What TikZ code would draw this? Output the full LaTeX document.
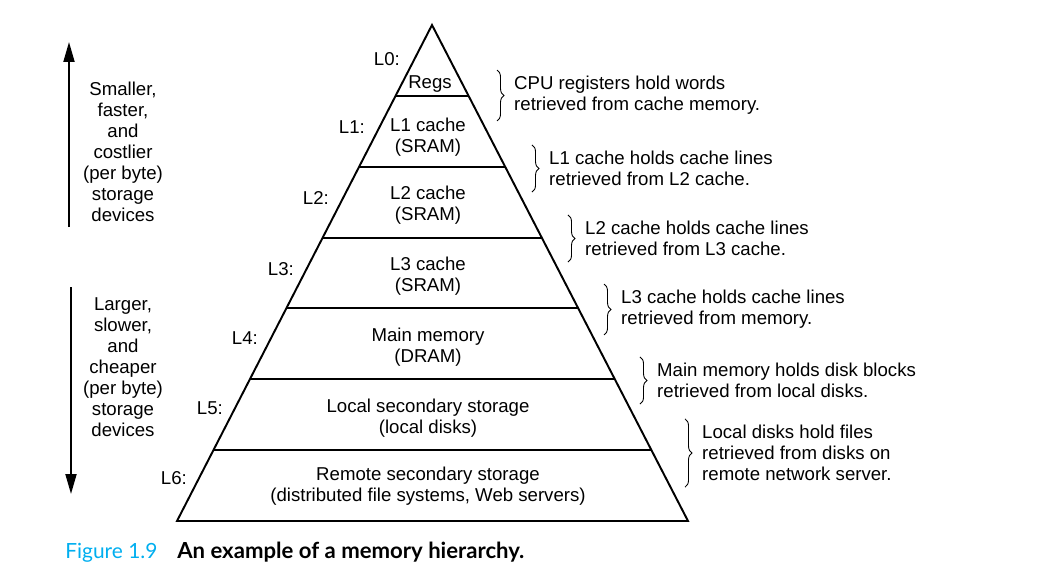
\documentclass[tikz,border=0pt]{standalone}
\usepackage{fontspec}
\setmainfont{Liberation Sans}
\newfontfamily\capfont{Lato}
\usetikzlibrary{arrows.meta, calc, decorations.pathreplacing}
\definecolor{figcyan}{RGB}{0,174,239}

\begin{document}
\begin{tikzpicture}[
    x=0.02cm, y=-0.02cm,
    >={Triangle[length=0.4cm, width=0.22cm]},
    level/.style={font=\fontsize{10.6}{12}\selectfont, align=center},
    lvl/.style={font=\fontsize{10.6}{12}\selectfont, anchor=east},
    note/.style={font=\fontsize{10.6}{12}\selectfont, align=left, anchor=west},
    side/.style={font=\fontsize{10.6}{12}\selectfont, align=center},
    brc/.style={decorate, decoration={brace, amplitude=4pt}, line width=0.5pt},
    edge/.style={line width=1.1pt},
    capt/.style={anchor=base west, inner sep=0pt, font=\capfont\fontsize{11.9}{13}\selectfont}
  ]
  \useasboundingbox (0,0) rectangle (1042,588);

  % pyramid
  \coordinate (apex) at (432,25);
  \coordinate (bl) at (177,521);
  \coordinate (br) at (688,521);
  \draw[edge, line join=miter] (bl) -- (apex) -- (br) -- cycle;
  \foreach \k in {1,...,6}
    \draw[edge] ($(apex)!\k/7!(bl)$) -- ($(apex)!\k/7!(br)$);

  % levels
  \node[level] (regs) at (430,84) {Regs};
  \node[level] (l1) at (428,137) {L1 cache\\(SRAM)};
  \node[level] (l2) at (428,205) {L2 cache\\(SRAM)};
  \node[level] (l3) at (428,276) {L3 cache\\(SRAM)};
  \node[level] (mm) at (428,347) {Main memory\\(DRAM)};
  \node[level] (loc) at (428,418) {Local secondary storage\\(local disks)};
  \node[level] (rem) at (428,486) {Remote secondary storage\\(distributed file systems, Web servers)};

  \node[lvl] (n0) at (406,59) {L0:};
  \node[lvl] (n1) at (371,127) {L1:};
  \node[lvl] (n2) at (335,198) {L2:};
  \node[lvl] (n3) at (300,269) {L3:};
  \node[lvl] (n4) at (264,338) {L4:};
  \node[lvl] (n5) at (229,408) {L5:};
  \node[lvl] (n6) at (193,478) {L6:};

  % notes on the right
  \node[note] (t0) at (508,95.5) {CPU registers hold words\\retrieved from cache memory.};
  \node[note] (t1) at (543,168.5) {L1 cache holds cache lines\\retrieved from L2 cache.};
  \node[note] (t2) at (579,238.5) {L2 cache holds cache lines\\retrieved from L3 cache.};
  \node[note] (t3) at (615,309.5) {L3 cache holds cache lines\\retrieved from memory.};
  \node[note] (t4) at (651,380.5) {Main memory holds disk blocks\\retrieved from local disks.};
  \node[note] (t5) at (696,453) {Local disks hold files\\retrieved from disks on\\remote network server.};

  \foreach \t in {t0,t1,t2,t3,t4,t5}
    \draw[brc] ([xshift=-0.22cm]\t.north west) -- ([xshift=-0.22cm]\t.south west);

  % left side
  \node[side] (small) at (123,152) {Smaller,\\faster,\\and\\costlier\\(per byte)\\storage\\devices};
  \node[side] (large) at (123,367) {Larger,\\slower,\\and\\cheaper\\(per byte)\\storage\\devices};
  \coordinate (uptop) at (69,42);
  \coordinate (upbot) at (69,227);
  \coordinate (dntop) at (71,287);
  \coordinate (dnbot) at (71,494);
  \draw[->, edge] (upbot) -- (uptop);
  \draw[->, edge] (dntop) -- (dnbot);

  % caption
  \node[capt, text=figcyan] (fig) at (65,558) {Figure 1.9};
  \node[capt, font=\capfont\bfseries\fontsize{12.6}{14}\selectfont] (cap) at (177,558) {An example of a memory hierarchy.};
\end{tikzpicture}
\end{document}
